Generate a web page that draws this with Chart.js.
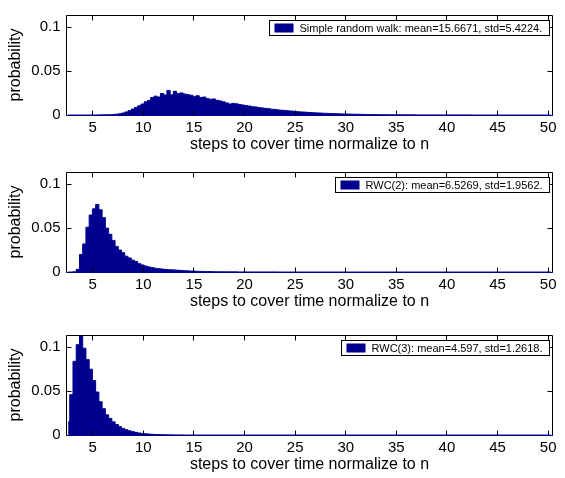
<!DOCTYPE html>
<html>
<head>
<meta charset="utf-8">
<script src="https://cdn.jsdelivr.net/npm/chart.js@4.4.1/dist/chart.umd.min.js"></script>
<style>
  body { margin: 0; background: #fff; }
  #wrap { position: relative; width: 565px; height: 478px; overflow: hidden; }
  canvas { position: absolute; left: 0; }
</style>
</head>
<body>
<div id="wrap">
  <canvas id="walkChart" width="565" height="160" style="top:0px"></canvas>
  <canvas id="rwc2Chart" width="565" height="160" style="top:157px"></canvas>
  <canvas id="rwc3Chart" width="565" height="160" style="top:320px"></canvas>
</div>
<script>
// histogram bins (steps to cover time / n)
const binStart = 2.41;
const binWidth = 0.32;
const xMin = 2.41, xMax = 50.43;
const yMax = 0.114;

const xTicks = [5, 10, 15, 20, 25, 30, 35, 40, 45, 50];
const yTicks = [0, 0.05, 0.1];

const walkLabel = "Simple random walk: mean=15.6671, std=5.4224.";
const rwc2Label = "RWC(2): mean=6.5269, std=1.9562.";
const rwc3Label = "RWC(3): mean=4.597, std=1.2618.";

const walkProb = [
  0, 0, 0, 0, 0, 0, 0, 0, 0.0001, 0.0001,
  0.0002, 0.0002, 0.0003, 0.0004, 0.0006, 0.0009, 0.0014, 0.0022, 0.0035, 0.0050,
  0.0068, 0.0085, 0.0105, 0.0125, 0.0150, 0.0165, 0.0200, 0.0215, 0.0205, 0.0245,
  0.0228, 0.0280, 0.0230, 0.0270, 0.0245, 0.0252, 0.0240, 0.0232, 0.0226, 0.0212,
  0.0220, 0.0200, 0.0205, 0.0188, 0.0180, 0.0183, 0.0168, 0.0160, 0.0150, 0.0138,
  0.0125, 0.0132, 0.0128, 0.0120, 0.0114, 0.0108, 0.0102, 0.0095, 0.0092, 0.0085,
  0.0080, 0.0076, 0.0072, 0.0066, 0.0063, 0.0058, 0.0054, 0.0052, 0.0048, 0.0045,
  0.0042, 0.0038, 0.0035, 0.0033, 0.0030, 0.0028, 0.0026, 0.0024, 0.0022, 0.0020,
  0.0019, 0.0017, 0.0016, 0.0015, 0.0013, 0.0012, 0.0011, 0.0010, 0.0009, 0.0009,
  0.0008, 0.0007, 0.0006, 0.0006, 0.0005, 0.0005, 0.0004, 0.0004, 0.0004, 0.0003,
  0.0003, 0.0003, 0.0003, 0.0002, 0.0002, 0.0002, 0.0002, 0.0002, 0.0001, 0.0001,
  0.0001, 0.0001, 0.0001, 0.0001, 0.0001, 0.0001, 0.0001, 0.0001, 0.0001, 0.0001,
  0.0001, 0.0001, 0.0001, 0.0001, 0.0001, 0, 0, 0, 0, 0,
  0, 0, 0, 0, 0, 0, 0, 0, 0, 0,
  0, 0, 0, 0, 0, 0, 0, 0, 0, 0
];

const rwc2Prob = [
  0, 0, 0.0003, 0.0030, 0.0200, 0.0320, 0.0510, 0.0650, 0.0720, 0.0770,
  0.0710, 0.0620, 0.0500, 0.0430, 0.0360, 0.0290, 0.0250, 0.0220, 0.0180, 0.0160,
  0.0135, 0.0120, 0.0095, 0.0080, 0.0068, 0.0058, 0.0050, 0.0043, 0.0038, 0.0034,
  0.0030, 0.0027, 0.0025, 0.0023, 0.0020, 0.0018, 0.0015, 0.0013, 0.0011, 0.0010,
  0.0008, 0.0007, 0.0006, 0.0005, 0.0005, 0.0004, 0.0003, 0.0003, 0.0003, 0.0002,
  0.0002, 0.0002, 0.0002, 0.0001, 0.0001, 0.0001, 0.0001, 0.0001, 0.0001, 0.0001,
  0.0001, 0.0001, 0.0001, 0.0001, 0.0001, 0, 0, 0, 0, 0,
  0, 0, 0, 0, 0, 0, 0, 0, 0, 0,
  0, 0, 0, 0, 0, 0, 0, 0, 0, 0,
  0, 0, 0, 0, 0, 0, 0, 0, 0, 0,
  0, 0, 0, 0, 0, 0, 0, 0, 0, 0,
  0, 0, 0, 0, 0, 0, 0, 0, 0, 0,
  0, 0, 0, 0, 0, 0, 0, 0, 0, 0,
  0, 0, 0, 0, 0, 0, 0, 0, 0, 0,
  0, 0, 0, 0, 0, 0, 0, 0, 0, 0
];

const rwc3Prob = [
  0.0150, 0.0460, 0.0840, 0.1030, 0.1140, 0.0990, 0.0860, 0.0750, 0.0620, 0.0490,
  0.0380, 0.0300, 0.0230, 0.0190, 0.0150, 0.0120, 0.0095, 0.0075, 0.0060, 0.0048,
  0.0038, 0.0030, 0.0023, 0.0018, 0.0014, 0.0011, 0.0008, 0.0006, 0.0005, 0.0004,
  0.0003, 0.0002, 0.0002, 0.0001, 0.0001, 0.0001, 0, 0, 0, 0,
  0, 0, 0, 0, 0, 0, 0, 0, 0, 0,
  0, 0, 0, 0, 0, 0, 0, 0, 0, 0,
  0, 0, 0, 0, 0, 0, 0, 0, 0, 0,
  0, 0, 0, 0, 0, 0, 0, 0, 0, 0,
  0, 0, 0, 0, 0, 0, 0, 0, 0, 0,
  0, 0, 0, 0, 0, 0, 0, 0, 0, 0,
  0, 0, 0, 0, 0, 0, 0, 0, 0, 0,
  0, 0, 0, 0, 0, 0, 0, 0, 0, 0,
  0, 0, 0, 0, 0, 0, 0, 0, 0, 0,
  0, 0, 0, 0, 0, 0, 0, 0, 0, 0,
  0, 0, 0, 0, 0, 0, 0, 0, 0, 0
];

const binCenters = walkProb.map((v, i) => binStart + binWidth * (i + 0.5));

const barColor = "#00008F";
const fontFamily = "'Liberation Sans', Arial, Helvetica, sans-serif";

Chart.defaults.color = "#000";
Chart.defaults.font.family = fontFamily;

/* box, inward ticks and legend, matlab style */
const matlabAxes = {
  id: "matlabAxes",
  afterDatasetsDraw(chart) {
    const ctx = chart.ctx;
    const a = chart.chartArea;
    const xs = chart.scales.x, ys = chart.scales.y;
    const L = Math.floor(a.left) + 0.5, R = Math.floor(a.right) + 0.5;
    const T = Math.floor(a.top) + 0.5, B = Math.floor(a.bottom) + 0.5;

    ctx.save();
    ctx.lineWidth = 1;
    ctx.strokeStyle = "#000";
    ctx.beginPath();
    xTicks.forEach(v => {
      const px = Math.floor(xs.getPixelForValue(v)) + 0.5;
      ctx.moveTo(px, B); ctx.lineTo(px, B - 5);
      ctx.moveTo(px, T); ctx.lineTo(px, T + 5);
    });
    yTicks.forEach(v => {
      const py = Math.floor(ys.getPixelForValue(v)) + 0.5;
      ctx.moveTo(L, py); ctx.lineTo(L + 5, py);
      ctx.moveTo(R, py); ctx.lineTo(R - 5, py);
    });
    ctx.stroke();

    ctx.beginPath();
    ctx.moveTo(L, B); ctx.lineTo(L, T); ctx.lineTo(R, T); ctx.lineTo(R, B);
    ctx.stroke();

    ctx.strokeStyle = barColor;
    ctx.beginPath();
    ctx.moveTo(L, B); ctx.lineTo(R, B);
    ctx.stroke();

    // legend
    const label = chart.data.datasets[0].label;
    ctx.font = "11px " + fontFamily;
    const tw = ctx.measureText(label).width;
    const boxW = Math.round(tw + 5 + 19 + 6 + 7);
    const boxH = 15;
    const bx = R - 3 - boxW;
    const by = T + 5;
    ctx.fillStyle = "#fff";
    ctx.fillRect(bx, by, boxW, boxH);
    ctx.strokeStyle = "#000";
    ctx.strokeRect(bx, by, boxW, boxH);
    ctx.fillStyle = barColor;
    ctx.fillRect(bx + 5, by + 3, 19, 9);
    ctx.fillStyle = "#000";
    ctx.textBaseline = "middle";
    ctx.textAlign = "left";
    ctx.fillText(label, bx + 5 + 19 + 6, by + boxH / 2 + 0.5);
    ctx.restore();
  }
};

/* histogram drawn as a filled step line, one step per bin */
function makeHistogram(canvasId, values, label) {
  return new Chart(document.getElementById(canvasId), {
    type: "line",
    data: {
      datasets: [{
        label: label,
        data: values.map((v, i) => ({ x: binCenters[i], y: v })),
        stepped: "middle",
        fill: "origin",
        backgroundColor: barColor,
        borderColor: barColor,
        borderWidth: 1,
        pointRadius: 0
      }]
    },
    options: {
      responsive: false,
      animation: false,
      devicePixelRatio: 1,
      layout: { padding: { top: 10, right: 12.5, left: 0, bottom: 0 } },
      plugins: { legend: { display: false }, tooltip: { enabled: false } },
      scales: {
        x: {
          type: "linear",
          min: xMin,
          max: xMax,
          offset: false,
          grid: { display: false, drawTicks: false },
          border: { display: false },
          afterBuildTicks: s => { s.ticks = xTicks.map(v => ({ value: v })); },
          afterFit: s => { s.height = 45; },
          ticks: { padding: 4, maxRotation: 0, font: { size: 15 }, color: "#000" },
          title: {
            display: true,
            text: "steps to cover time normalize to n",
            font: { size: 16 },
            color: "#000",
            padding: { top: 0, bottom: 6 }
          }
        },
        y: {
          min: 0,
          max: yMax,
          grid: { display: false, drawTicks: false },
          border: { display: false },
          afterBuildTicks: s => { s.ticks = yTicks.map(v => ({ value: v })); },
          afterFit: s => { s.width = 66.5; },
          ticks: { padding: 6, font: { size: 15 }, color: "#000", callback: v => String(v) },
          title: {
            display: true,
            text: "probability",
            font: { size: 16 },
            color: "#000",
            padding: { top: 6, bottom: 0 }
          }
        }
      }
    },
    plugins: [matlabAxes]
  });
}

makeHistogram("walkChart", walkProb, walkLabel);
makeHistogram("rwc2Chart", rwc2Prob, rwc2Label);
makeHistogram("rwc3Chart", rwc3Prob, rwc3Label);
</script>
</body>
</html>
